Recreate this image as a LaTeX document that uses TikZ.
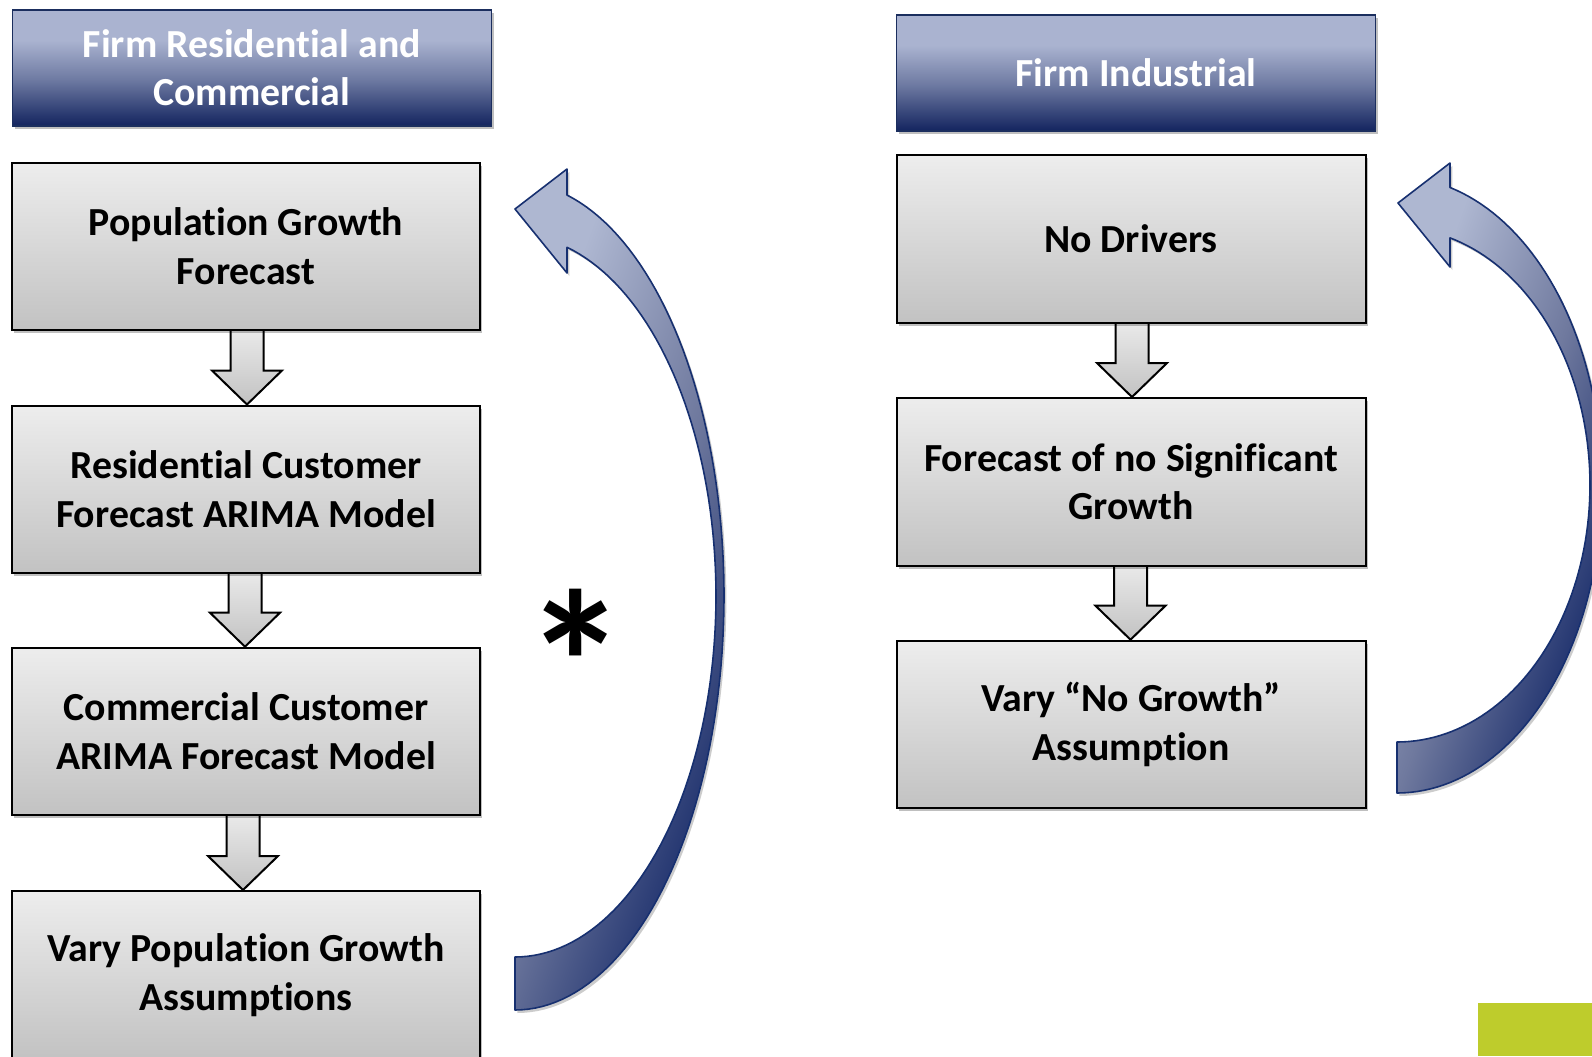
\documentclass[tikz,border=0pt]{standalone}
\usepackage{fontspec}
\setmainfont{Carlito}[Ligatures=NoCommon]
\usetikzlibrary{calc,shadows,backgrounds}
\definecolor{hdrT}{HTML}{AAB3D0}
\definecolor{hdrM}{HTML}{6E7AA2}
\definecolor{hdrB}{HTML}{13245F}
\definecolor{hdrLine}{HTML}{1B2E5E}
\definecolor{boxT}{HTML}{EDEDED}
\definecolor{boxB}{HTML}{C2C2C2}
\definecolor{arcL}{HTML}{AEB7D1}
\definecolor{arcM}{HTML}{6F799E}
\definecolor{arcD}{HTML}{1C2F6C}
\definecolor{arcLine}{HTML}{173070}
\definecolor{limeC}{HTML}{BECC2C}
\pgfdeclareverticalshading{hdrshade}{100bp}{color(0bp)=(hdrB); color(25bp)=(hdrB); color(45bp)=(hdrM); color(62bp)=(hdrT); color(75bp)=(hdrT); color(100bp)=(hdrT)}
\pgfdeclarehorizontalshading{arcshade}{100bp}{color(0bp)=(arcL); color(30bp)=(arcL); color(52bp)=(arcM); color(72bp)=(arcD); color(100bp)=(arcD)}
\tikzset{
  hdrbox/.style={draw=hdrLine, line width=0.8pt, shading=hdrshade, minimum width=239.5pt, minimum height=57.9pt, inner sep=0pt, align=center, text=white, font=\fontsize{19.9}{23.85}\selectfont\bfseries, drop shadow={shadow xshift=1.2pt, shadow yshift=-1.5pt, opacity=0.25, fill=black}},
  stepbox/.style={draw=black, line width=1pt, top color=boxT, bottom color=boxB, minimum width=234pt, minimum height=83.8pt, inner sep=0pt, align=center, font=\fontsize{19.9}{24.35}\selectfont\bfseries, drop shadow={shadow xshift=1.2pt, shadow yshift=-1.5pt, opacity=0.25, fill=black}},
  blockfill/.style={top color=boxT, bottom color=boxB},
  blockline/.style={draw=black, line width=1pt, line join=miter},
  curvearrow/.style={draw=arcLine, line width=0.8pt, shading=arcshade, shading angle=-20, line join=round, drop shadow={shadow xshift=1.2pt, shadow yshift=-1.5pt, opacity=0.2, fill=black}},
}
\newcommand\blockarr[3]{%
  \fill[blockfill] let \p1=(#1.south), \p2=(#2.north), \p3=(#3,0) in
    (\x3-8.25pt,\y1+4pt) -- (\x3-8.25pt,\y2+17pt) -- (\x3-17.5pt,\y2+17pt) -- (\x3,\y2) -- (\x3+17.5pt,\y2+17pt) -- (\x3+8.25pt,\y2+17pt) -- (\x3+8.25pt,\y1+4pt) -- cycle;
  \draw[blockline] let \p1=(#1.south), \p2=(#2.north), \p3=(#3,0) in
    (\x3-8.25pt,\y1+4pt) -- (\x3-8.25pt,\y2+17pt) -- (\x3-17.5pt,\y2+17pt) -- (\x3,\y2) -- (\x3+17.5pt,\y2+17pt) -- (\x3+8.25pt,\y2+17pt) -- (\x3+8.25pt,\y1+4pt);
}
\begin{document}
\begin{tikzpicture}[x=0.5pt,y=-0.5pt]
\useasboundingbox (0,0) rectangle (1592,1056);
% headers
\node[hdrbox] (hL) at (251.8,68) {Firm Residential and\\Commercial};
\node[hdrbox] (hR) at (1136,73.1) {Firm Industrial};
% left column
\node[stepbox, minimum height=83.7pt] (L1) at (246,246.2) {Population Growth\\Forecast};
\node[stepbox] (L2) at (246,489.3) {Residential Customer\\Forecast ARIMA Model};
\node[stepbox] (L3) at (246,731.5) {Commercial Customer\\ARIMA Forecast Model};
\node[stepbox, minimum height=84pt] (L4) at (246,975) {Vary Population Growth\\Assumptions};
% right column
\node[stepbox, minimum width=234.5pt] (R1) at (1131,239.1) {No Drivers};
\node[stepbox, minimum width=234.5pt] (R2) at (1131,481.8) {Forecast of no Significant\\Growth};
\node[stepbox, minimum width=234.5pt] (R3) at (1131,724.5) {Vary “No Growth”\\Assumption};
% asterisk
\node[font=\fontsize{103}{103}\selectfont\bfseries, inner sep=0pt] (star) at (576,663) {*};
% block arrows between boxes
\begin{pgfonlayer}{background}
\fill[white] (0,0) rectangle (1592,1056);
\blockarr{L1}{L2}{247}
\blockarr{L2}{L3}{245}
\blockarr{L3}{L4}{243}
\blockarr{R1}{R2}{1132}
\blockarr{R2}{R3}{1130.5}
\end{pgfonlayer}
% curved return arrows
\path[curvearrow] (515,209) -- (567,169) -- (567,195)
  -- plot[domain=75.6:-90, samples=90, variable=\t] ({515+209*cos(\t)},{596-414*sin(\t)})
  -- (515,957)
  -- plot[domain=-90:75.0, samples=90, variable=\t] ({515+201*cos(\t)},{596-361*sin(\t)})
  -- (567,273) -- cycle;
\path[curvearrow] (1398,203) -- (1450,163) -- (1450,187.5)
  -- plot[domain=75.0:-90, samples=90, variable=\t] ({1397+205*cos(\t)},{485-308*sin(\t)})
  -- (1397,742)
  -- plot[domain=-90:74.06, samples=90, variable=\t] ({1397+193*cos(\t)},{485-257*sin(\t)})
  -- (1450,267) -- cycle;
% corner patch
\fill[limeC] (1478,1003) rectangle (1592,1056);
\end{tikzpicture}
\end{document}
